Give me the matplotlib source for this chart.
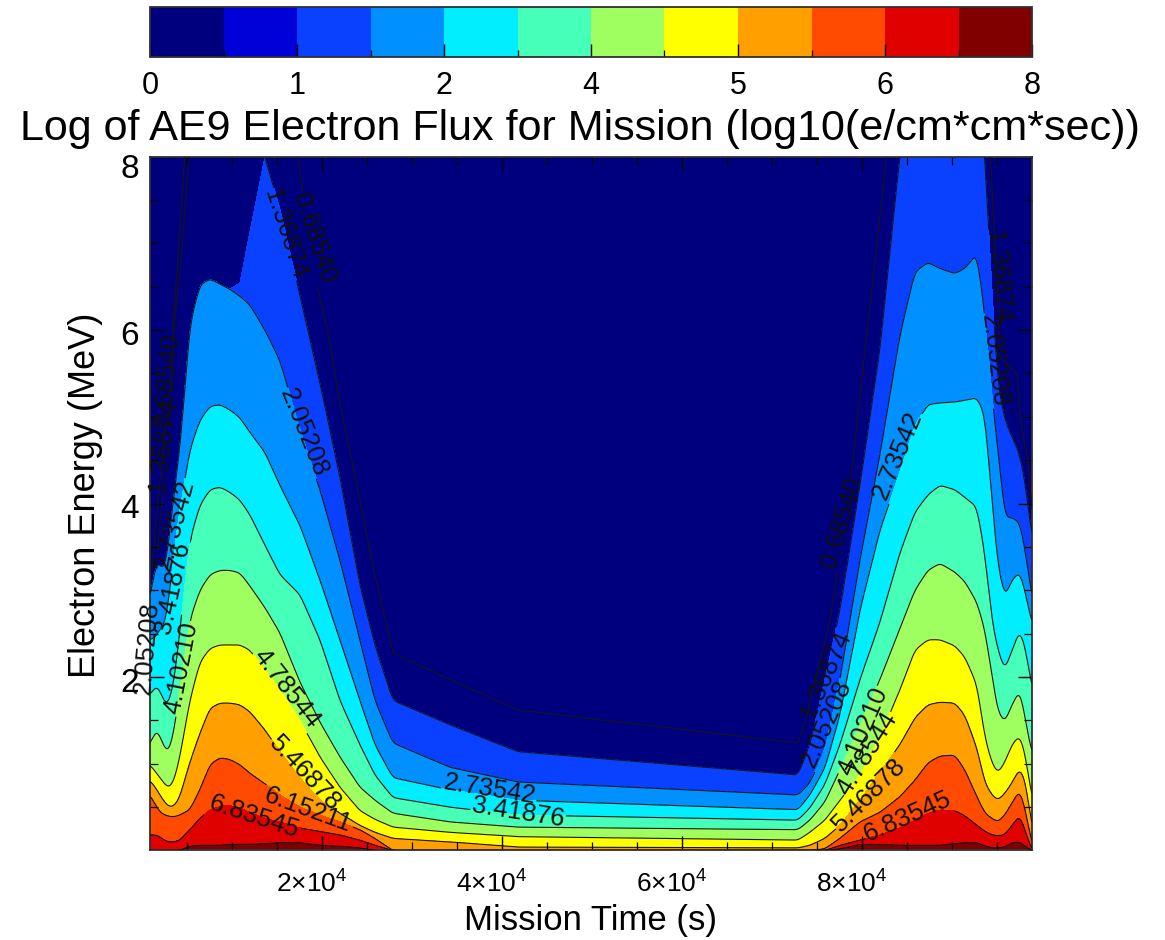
import numpy as np
import matplotlib
matplotlib.use("Agg")
import matplotlib.pyplot as plt
from matplotlib.colors import ListedColormap, BoundaryNorm
from matplotlib.colorbar import ColorbarBase
from matplotlib.ticker import FixedLocator
from matplotlib.transforms import ScaledTranslation

plt.rcParams['font.family'] = ['Liberation Sans', 'DejaVu Sans']
plt.rcParams['mathtext.fontset'] = 'custom'
plt.rcParams['mathtext.rm'] = 'Liberation Sans'
plt.rcParams['mathtext.default'] = 'regular'

title = "Log of AE9 Electron Flux for Mission (log10(e/cm*cm*sec))"
x_name = "Mission Time (s)"
y_name = "Electron Energy (MeV)"

levels = [0.00206, 0.68540, 1.36874, 2.05208, 2.73542, 3.41876, 4.10210,
          4.78544, 5.46878, 6.15212, 6.83546, 7.51880, 8.20214]
bar_labels = ['0', '1', '2', '4', '5', '6', '8']
plot_colors = ['#00007F', '#00007F', '#0A40FF', '#0090FF', '#00EEFF', '#46FFB8',
               '#A0FF60', '#FFFF00', '#FFA000', '#FF4A00', '#E00000', '#800000']
bar_colors = ['#00007F', '#0000D8', '#0A40FF', '#0090FF', '#00EEFF', '#46FFB8',
              '#A0FF60', '#FFFF00', '#FFA000', '#FF4A00', '#E00000', '#800000']

times = [900, 1560, 2000, 2560, 3110, 3670, 4220, 5330, 6440, 7560, 8670, 9780,
         10890, 12000, 13670, 15330, 17560, 19780, 22000, 24220, 25890, 27890,
         34220, 41780,
         72890, 74220, 75890, 77560, 79780, 82000, 84220, 85890, 87330, 88670,
         90330, 91440, 92780, 93670, 94440, 95110, 95890, 96670, 97560, 98220, 98900]

# energy (MeV) at which the flux reaches each level, per mission time
e_137 = [2.89, 3.33, 3.29, 3.23, 3.69, 4.21, 4.62, 6.06, 6.52, 6.59, 6.53, 6.47,
         6.54, 7.13, 7.99, 7.40, 6.40, 5.39, 4.31, 3.06, 2.37, 1.73, 1.45, 1.14,
         0.87, 1.22, 1.97, 2.77, 4.21, 5.77, 8.02, 9.23, 9.23, 9.23, 9.23, 9.23,
         9.23, 7.99, 6.46, 5.37, 4.96, 4.77, 4.56, 4.19, 3.58]
e_205 = [2.89, 3.33, 3.29, 3.23, 3.69, 4.21, 4.62, 6.06, 6.52, 6.59, 6.53, 6.47,
         6.39, 6.29, 6.00, 5.65, 4.85, 4.16, 3.35, 2.43, 1.73, 1.24, 0.96, 0.79,
         0.64, 0.78, 1.16, 1.97, 3.35, 4.56, 5.94, 6.67, 6.78, 6.71, 6.65, 6.71,
         6.88, 6.17, 5.25, 4.62, 3.84, 3.84, 3.78, 3.41, 2.89]
e_273 = [2.43, 2.46, 2.56, 2.60, 3.00, 3.52, 3.93, 4.62, 4.96, 5.12, 5.14, 5.08,
         4.99, 4.82, 4.59, 4.21, 3.75, 3.12, 2.43, 1.73, 1.22, 0.84, 0.70, 0.58,
         0.47, 0.64, 0.95, 1.56, 2.77, 3.69, 4.36, 4.90, 5.14, 5.16, 5.17, 5.19,
         5.22, 5.02, 4.04, 3.29, 2.92, 3.12, 3.21, 2.95, 2.60]
e_342 = [1.79, 1.90, 1.85, 1.68, 1.73, 2.02, 2.54, 3.58, 3.98, 4.16, 4.19, 4.13,
         4.04, 3.87, 3.52, 3.18, 2.95, 2.43, 1.73, 1.22, 0.87, 0.61, 0.50, 0.41,
         0.35, 0.49, 0.76, 1.22, 1.97, 2.63, 3.43, 3.90, 4.10, 4.21, 4.16, 4.07,
         3.96, 3.41, 2.66, 2.31, 2.08, 2.31, 2.54, 2.31, 1.85]
e_410 = [1.22, 1.39, 1.33, 1.16, 1.16, 1.45, 1.85, 2.66, 3.00, 3.18, 3.23, 3.23,
         3.20, 3.05, 2.80, 2.51, 1.94, 1.48, 1.08, 0.73, 0.58, 0.43, 0.33, 0.27,
         0.24, 0.35, 0.56, 0.93, 1.45, 1.97, 2.56, 3.00, 3.23, 3.31, 3.21, 3.10,
         2.86, 2.54, 2.02, 1.60, 1.48, 1.68, 1.85, 1.48, 1.10]
e_478 = [0.99, 0.90, 0.84, 0.76, 0.72, 0.84, 1.08, 1.73, 2.17, 2.33, 2.37, 2.37,
         2.37, 2.31, 2.08, 1.85, 1.50, 1.08, 0.73, 0.46, 0.36, 0.27, 0.21, 0.16,
         0.12, 0.21, 0.35, 0.58, 0.87, 1.31, 1.85, 2.31, 2.43, 2.43, 2.36, 2.23,
         1.91, 1.30, 1.01, 0.89, 1.02, 1.22, 1.33, 1.07, 0.58]
e_547 = [0.81, 0.72, 0.64, 0.55, 0.50, 0.52, 0.62, 1.02, 1.35, 1.64, 1.70, 1.70,
         1.68, 1.60, 1.39, 1.14, 0.84, 0.58, 0.43, 0.29, 0.21, 0.14, 0.10, 0.04,
         0.03, 0.06, 0.14, 0.29, 0.58, 0.90, 1.22, 1.53, 1.68, 1.71, 1.70, 1.56,
         1.18, 0.78, 0.64, 0.58, 0.66, 0.78, 0.95, 0.78, 0.24]
e_615 = [0.64, 0.52, 0.44, 0.41, 0.39, 0.39, 0.41, 0.47, 0.70, 0.99, 1.07, 1.05,
         0.99, 0.89, 0.77, 0.64, 0.50, 0.41, 0.33, 0.24, 0.14, 0.00, 0.00, 0.00,
         0.00, 0.00, 0.02, 0.14, 0.33, 0.44, 0.62, 0.81, 1.01, 1.09, 1.10, 0.93,
         0.62, 0.43, 0.37, 0.33, 0.41, 0.55, 0.70, 0.44, 0.06]
e_683 = [0.18, 0.18, 0.16, 0.11, 0.10, 0.10, 0.12, 0.24, 0.37, 0.47, 0.51, 0.52,
         0.49, 0.44, 0.37, 0.33, 0.26, 0.22, 0.18, 0.12, 0.06, 0.00, 0.00, 0.00,
         0.00, 0.00, 0.00, 0.06, 0.12, 0.18, 0.26, 0.35, 0.43, 0.47, 0.46, 0.40,
         0.29, 0.22, 0.18, 0.17, 0.18, 0.29, 0.41, 0.20, 0.00]
e_752 = [0.00, 0.00, 0.00, 0.00, 0.00, 0.00, 0.00, 0.05, 0.06, 0.06, 0.06, 0.07,
         0.07, 0.07, 0.08, 0.09, 0.09, 0.06, 0.05, 0.03, 0.00, 0.00, 0.00, 0.00,
         0.00, 0.00, 0.00, 0.02, 0.07, 0.07, 0.06, 0.06, 0.06, 0.06, 0.08, 0.09,
         0.09, 0.05, 0.03, 0.03, 0.04, 0.09, 0.10, 0.04, 0.00]

# contour lines that do not border a visible colour change
t_068_a = [4790, 4010, 3460, 2680, 1790, 1120]
e_068_a = [8.05, 6.81, 6.08, 4.96, 4.04, 3.23]
t_137_a = [5230, 4460, 3680, 2900, 2230, 1680]
e_137_a = [8.05, 6.92, 6.15, 4.96, 4.04, 3.41]
t_068_b = [17230, 17900, 19570, 20570, 22010, 24230, 25680, 27900, 34230, 41790,
           72890, 73680, 76460, 77230, 78900, 80570, 82780]
e_068_b = [8.05, 7.58, 6.46, 6.03, 5.16, 4.04, 3.27, 2.28, 1.97, 1.62,
           1.24, 1.48, 2.66, 3.20, 4.42, 5.97, 8.05]
t_068_c = [94230, 94790, 95340, 97230, 97570, 98460, 98900]
e_068_c = [8.05, 7.04, 5.69, 5.50, 5.00, 4.50, 3.93]

label_texts = ['0.68540', '1.36874', '2.05208', '4.78544', '5.46878', '6.15211',
               '6.83545', '2.73542', '3.41876', '0.68540', '1.36874', '2.73542',
               '3.41876', '4.10210', '2.05208', '1.36874', '2.05208', '2.73542',
               '0.68540', '1.36874', '2.05208', '4.10210', '4.78544', '5.46878',
               '6.83545']
label_times = [19120, 15900, 18010, 16120, 18120, 18460, 12460, 38680, 41790,
               2790, 2340, 3680, 3460, 4340, 570, 95120, 94680, 83900, 77790,
               76010, 76010, 80120, 80570, 80790, 85120]
label_energies = [7.06, 7.10, 4.82, 1.87, 0.89, 0.47, 0.39, 0.70, 0.44, 5.42,
                  4.67, 3.75, 3.03, 2.10, 2.33, 6.61, 5.65, 4.56, 3.78, 2.03,
                  1.46, 1.37, 1.12, 0.64, 0.39]
label_angles = [-72, -72, -68, -52, -47, -20, -18, -9, -9, 85, 83, 75, 78, 79, 85,
                -85, -83, 67, 73, 66, 66, 67, 58, 45, 24]

x_major = [20000, 40000, 60000, 80000]
x_major_labels = ['2×10$^{4}$', '4×10$^{4}$', '6×10$^{4}$', '8×10$^{4}$']
x_minor = [5000, 10000, 15000, 25000, 30000, 35000, 45000, 50000, 55000, 65000,
           70000, 75000, 85000, 90000, 95000]
y_major = [2, 4, 6, 8]
y_minor = [0.5, 1, 1.5, 2.5, 3, 3.5, 4.5, 5, 5.5, 6.5, 7, 7.5]

W, H = 1165, 940
fig = plt.figure(figsize=(W / 100, H / 100), dpi=100, facecolor='white')
ax = fig.add_axes([150 / W, 1 - 849.5 / H, 882 / W, 693 / H])
cax = fig.add_axes([150 / W, 1 - 57 / H, 882 / W, 50 / H])
ax.set_xlim(900, 98900)
ax.set_ylim(0.012, 8.0)

t_raw = np.array(times, dtype=float)
t = np.arange(900.0, 98901.0, 100.0)
kernel = np.hanning(15)
kernel /= kernel.sum()


def rounded(values):
    """Round the corners between read points, as the original contour renderer did."""
    y = np.interp(t, t_raw, values)
    pad = len(kernel) // 2
    return np.convolve(np.r_[np.full(pad, y[0]), y, np.full(pad, y[-1])], kernel, mode='valid')


# filled contours on a mesh whose rows follow the level energies
rows = [rounded(r) for r in [e_205, e_273, e_342, e_410, e_478, e_547, e_615, e_683, e_752]]
blue_edge = rounded(e_137)
straight = (t >= 9780) & (t <= 15330)
blue_edge[straight] = np.interp(t[straight], t_raw, e_137)
blue_edge[t < 9780] = rows[0][t < 9780]
rows = [blue_edge] + rows
E = np.vstack([np.full_like(t, 11.0)] + rows + [np.zeros_like(t)])
Z = np.array([0.1] + levels[2:12] + [8.1])[:, None] * np.ones_like(t)
T = np.tile(t, (E.shape[0], 1))
ax.contourf(T, E, Z, levels=levels, colors=plot_colors, antialiased=False)


def draw_line(name, xs, ys):
    """Plot a contour line, leaving gaps where its labels sit."""
    pts = ax.transData.transform(np.column_stack([xs, ys]))
    seg = np.hypot(*np.diff(pts, axis=0).T)
    s = np.r_[0, np.cumsum(seg)]
    si = np.arange(0, s[-1], 1.0)
    dense = np.column_stack([np.interp(si, s, pts[:, 0]), np.interp(si, s, pts[:, 1])])
    keep = np.ones(len(dense), bool)
    for txt, lt, le, a in zip(label_texts, label_times, label_energies, label_angles):
        if txt != name:
            continue
        c = ax.transData.transform((lt, le))
        u = np.array([np.cos(np.radians(a)), np.sin(np.radians(a))])
        d = dense - c
        along = d @ u
        perp = d @ np.array([-u[1], u[0]])
        keep &= ~((np.abs(along) < 48) & (np.abs(perp) < 14))
    dense[~keep] = np.nan
    data = ax.transData.inverted().transform(dense)
    ax.plot(data[:, 0], data[:, 1], color='#151515', lw=0.8, zorder=3)


names = ['1.36874', '2.05208', '2.73542', '3.41876', '4.10210', '4.78544',
         '5.46878', '6.15211', '6.83545']
right_of_apex = t >= 13670
draw_line('1.36874', t[right_of_apex], blue_edge[right_of_apex])
for nm, r in zip(names[1:], rows[1:9]):
    draw_line(nm, t, r)
draw_line('', t, rows[9])
draw_line('0.68540', t_068_a, e_068_a)
draw_line('1.36874', t_137_a, e_137_a)
draw_line('0.68540', t_068_b, e_068_b)
draw_line('0.68540', t_068_c, e_068_c)

for txt, lt, le, a in zip(label_texts, label_times, label_energies, label_angles):
    ax.text(lt, le, txt, rotation=a, rotation_mode='anchor', ha='center', va='center',
            fontsize=18.5, color='#101010', zorder=4, clip_on=False)

# axes furniture
ax.set_xticks(x_major)
ax.set_xticklabels(x_major_labels, fontsize=19)
ax.set_xticks(x_minor, minor=True)
ax.set_yticks(y_major)
ax.set_yticklabels([str(v) for v in y_major], fontsize=24)
ax.set_yticks(y_minor, minor=True)
ax.tick_params(which='major', direction='in', length=10, width=1.0, top=True, right=True, pad=8)
ax.tick_params(which='minor', direction='in', length=5.5, width=0.9, top=True, right=True)
ax.tick_params(axis='x', which='major', pad=15)
for lab in ax.get_xticklabels():
    lab.set_transform(lab.get_transform() + ScaledTranslation(-10 / 100, 0, fig.dpi_scale_trans))
for lab, v in zip(ax.get_yticklabels(), y_major):
    dy = -9 if v == 8 else -2.5
    lab.set_transform(lab.get_transform() + ScaledTranslation(0, dy / 100, fig.dpi_scale_trans))
for sp in ax.spines.values():
    sp.set_color('#303030')
    sp.set_linewidth(1.3)
ax.set_xlabel(x_name, fontsize=25, labelpad=0)
ax.xaxis.set_label_coords((591 - 150) / 882, -(904 - 849.5) / 693, transform=ax.transAxes)
ax.set_ylabel(y_name, fontsize=26)
ax.yaxis.set_label_coords((103 - 150) / 882, (849.5 - 495) / 693, transform=ax.transAxes)

# colour bar
cb = ColorbarBase(cax, cmap=ListedColormap(bar_colors), norm=BoundaryNorm(levels, 12),
                  orientation='horizontal', spacing='uniform', drawedges=False)
cb.set_ticks(levels[::2])
cb.set_ticklabels(bar_labels)
cb.ax.xaxis.set_minor_locator(FixedLocator(levels[1::2]))
cax.tick_params(which='major', axis='x', direction='in', length=9.5, width=1.0, labelsize=22, pad=10, color='black')
cax.tick_params(which='minor', axis='x', direction='in', length=5, width=0.9, color='black')
cb.outline.set_edgecolor('#303030')
cb.outline.set_linewidth(1.3)

fig.text(20 / W, 1 - 140 / H, title, fontsize=31.1, va='baseline', ha='left', color='black')
fig.savefig('out.png', dpi=100, facecolor='white')
